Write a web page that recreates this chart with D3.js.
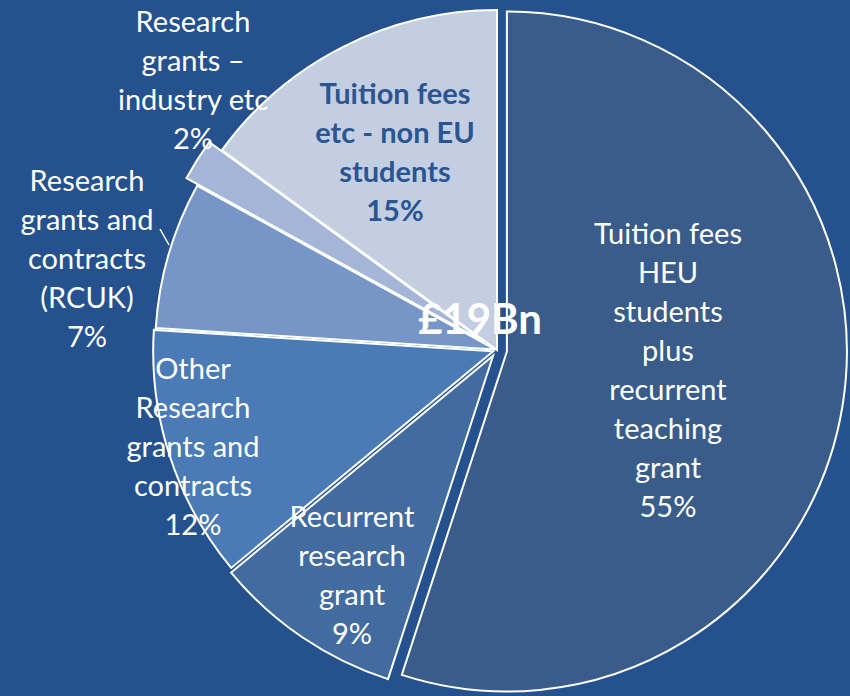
<!DOCTYPE html>
<html>
<head>
<meta charset="utf-8">
<script src="https://cdn.jsdelivr.net/npm/d3@7"></script>
<style>
  body { margin: 0; background: #25528e; }
  svg { display: block; }
  .lbl { font-family: Lato, "Open Sans", sans-serif; font-size: 29px; fill: #fff; }
</style>
</head>
<body>
<script>
// data
var categories = [
  "Tuition fees HEU students plus recurrent teaching grant",
  "Recurrent research grant",
  "Other Research grants and contracts",
  "Research grants and contracts (RCUK)",
  "Research grants – industry etc",
  "Tuition fees etc - non EU students"
];
var values = [55, 9, 12, 7, 2, 15];
var labelLines = [
  ["Tuition fees", "HEU", "students", "plus", "recurrent", "teaching", "grant", "55%"],
  ["Recurrent", "research", "grant", "9%"],
  ["Other", "Research", "grants and", "contracts", "12%"],
  ["Research", "grants and", "contracts", "(RCUK)", "7%"],
  ["Research", "grants –", "industry etc", "2%"],
  ["Tuition fees", "etc - non EU", "students", "15%"]
];
var totalLabel = "£19Bn";

var colors = ["#3a5c8b", "#426c9f", "#4a7bb6", "#7596c7", "#a4b6d7", "#c3cee3"];
var explode = [10, 7, 4, 2, 15, 0];
// label centre positions (x, y of first line)
var labelPos = [[668, 232], [352, 515], [193, 367], [87, 179], [193, 20], [395, 92]];
var lineH = 39;

var svgWidth = 850, svgHeight = 696;
var cx = 497, cy = 350, radius = 340;

var svg = d3.select("body").append("svg")
    .attr("width", svgWidth)
    .attr("height", svgHeight);

svg.append("rect").attr("width", svgWidth).attr("height", svgHeight).attr("fill", "#25528e");

var pie = d3.pie().sort(null).value(function(d) { return d; });
var arc = d3.arc().innerRadius(0).outerRadius(radius);
var arcs = pie(values);

var g = svg.append("g").attr("transform", `translate(${cx},${cy})`);

g.selectAll("path")
  .data(arcs)
  .enter()
  .append("path")
  .attr("d", arc)
  .attr("fill", function(d, i) { return colors[i]; })
  .attr("stroke", "#fff")
  .attr("stroke-width", 2)
  .attr("stroke-linejoin", "miter")
  .attr("transform", function(d, i) {
    var a = (d.startAngle + d.endAngle) / 2;
    return `translate(${Math.sin(a) * explode[i]},${-Math.cos(a) * explode[i]})`;
  });

// leader line for RCUK label
svg.append("line")
  .attr("x1", 160).attr("y1", 229).attr("x2", 169).attr("y2", 245)
  .attr("stroke", "#fff").attr("stroke-width", 1.5);

// labels
labelLines.forEach(function(lines, i) {
  var t = svg.append("text")
    .attr("class", "lbl")
    .attr("text-anchor", "middle")
    .attr("x", labelPos[i][0])
    .attr("y", labelPos[i][1])
    .attr("dominant-baseline", "central");
  if (i === 5) t.style("font-weight", "bold").style("fill", "#2b5591");
  lines.forEach(function(s, j) {
    t.append("tspan")
      .attr("x", labelPos[i][0])
      .attr("y", labelPos[i][1] + j * lineH)
      .text(s);
  });
});

svg.append("text")
  .attr("class", "lbl")
  .attr("x", 480).attr("y", 318)
  .attr("text-anchor", "middle")
  .attr("dominant-baseline", "central")
  .style("font-size", "42px")
  .style("font-weight", "bold")
  .text(totalLabel);
</script>
</body>
</html>
